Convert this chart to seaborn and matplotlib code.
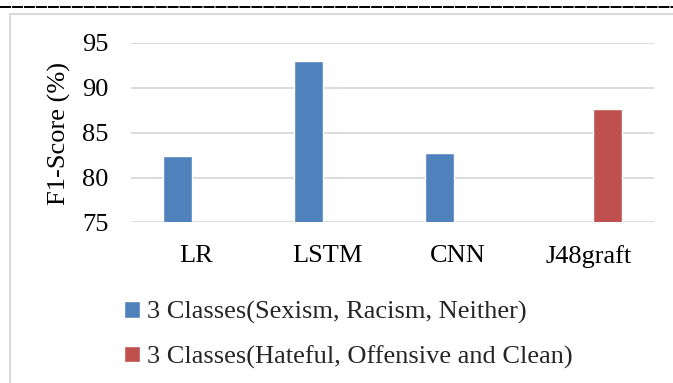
import matplotlib
matplotlib.use("Agg")
import matplotlib.pyplot as plt
from matplotlib.patches import Rectangle
from matplotlib.lines import Line2D
import seaborn as sns
import pandas as pd

# Chart data
models = ["LR", "LSTM", "CNN", "J48graft"]
series_names = [
    "3 Classes(Sexism, Racism, Neither)",
    "3 Classes(Hateful, Offensive and Clean)",
]
model_series = [series_names[0], series_names[0], series_names[0], series_names[1]]
f1_scores = [82.4, 93.0, 82.7, 87.6]
y_ticks = [75, 80, 85, 90, 95]

df = pd.DataFrame({"Model": models, "Series": model_series, "F1": f1_scores})

sns.set_theme(style="white")
plt.rcParams["font.family"] = ["Liberation Serif", "DejaVu Serif"]
FS = 19

fig = plt.figure(figsize=(6.73, 3.83), dpi=100)
ax = fig.add_axes([131 / 673, 1 - 222.5 / 383, (654 - 131) / 673, (222.5 - 43) / 383])

palette = {series_names[0]: "#4F81BD", series_names[1]: "#C0504D"}
sns.barplot(
    data=df, x="Model", y="F1", hue="Series", order=models,
    hue_order=series_names, palette=palette, width=0.57, gap=0.22,
    dodge=True, saturation=1, ax=ax,
)

ax.set_ylim(75, 95)
ax.set_yticks(y_ticks)
ax.yaxis.grid(True, color="#D9D9D9", linewidth=1.3)
ax.set_axisbelow(True)
for s in ax.spines.values():
    s.set_visible(False)
ax.tick_params(axis="both", length=0, labelsize=FS, colors="black")
ax.tick_params(axis="y", pad=16)
ax.tick_params(axis="x", pad=16.5)
ax.set_xlabel("")
ax.set_ylabel("")

handles, labels = ax.get_legend_handles_labels()
ax.get_legend().remove()
fig.legend(
    handles, labels, loc="upper left", bbox_to_anchor=(124 / 673, 1 - 301 / 383),
    frameon=False, fontsize=FS, handlelength=0.6, handleheight=0.6,
    handletextpad=0.28, labelspacing=0.8, borderaxespad=0, borderpad=0,
)

fig.text(59 / 673, 1 - 133.5 / 383, "F1-Score (%)", rotation=90,
         ha="center", va="center", fontsize=FS, color="black")

# Frame around the chart and the rule above it
fig.patches.append(Rectangle((10 / 673, -0.1), 1.0, (383 - 14) / 383 + 0.1,
                             transform=fig.transFigure, fill=False,
                             edgecolor="#D9D9D9", linewidth=1.5))
fig.lines.append(Line2D([0, 1], [1 - 6.5 / 383, 1 - 6.5 / 383], transform=fig.transFigure,
                        color="black", linewidth=1.4,
                        linestyle=(0, (7.9 / 1.4, 0.72 / 1.4))))

fig.savefig("out.png", dpi=100, facecolor="white")
